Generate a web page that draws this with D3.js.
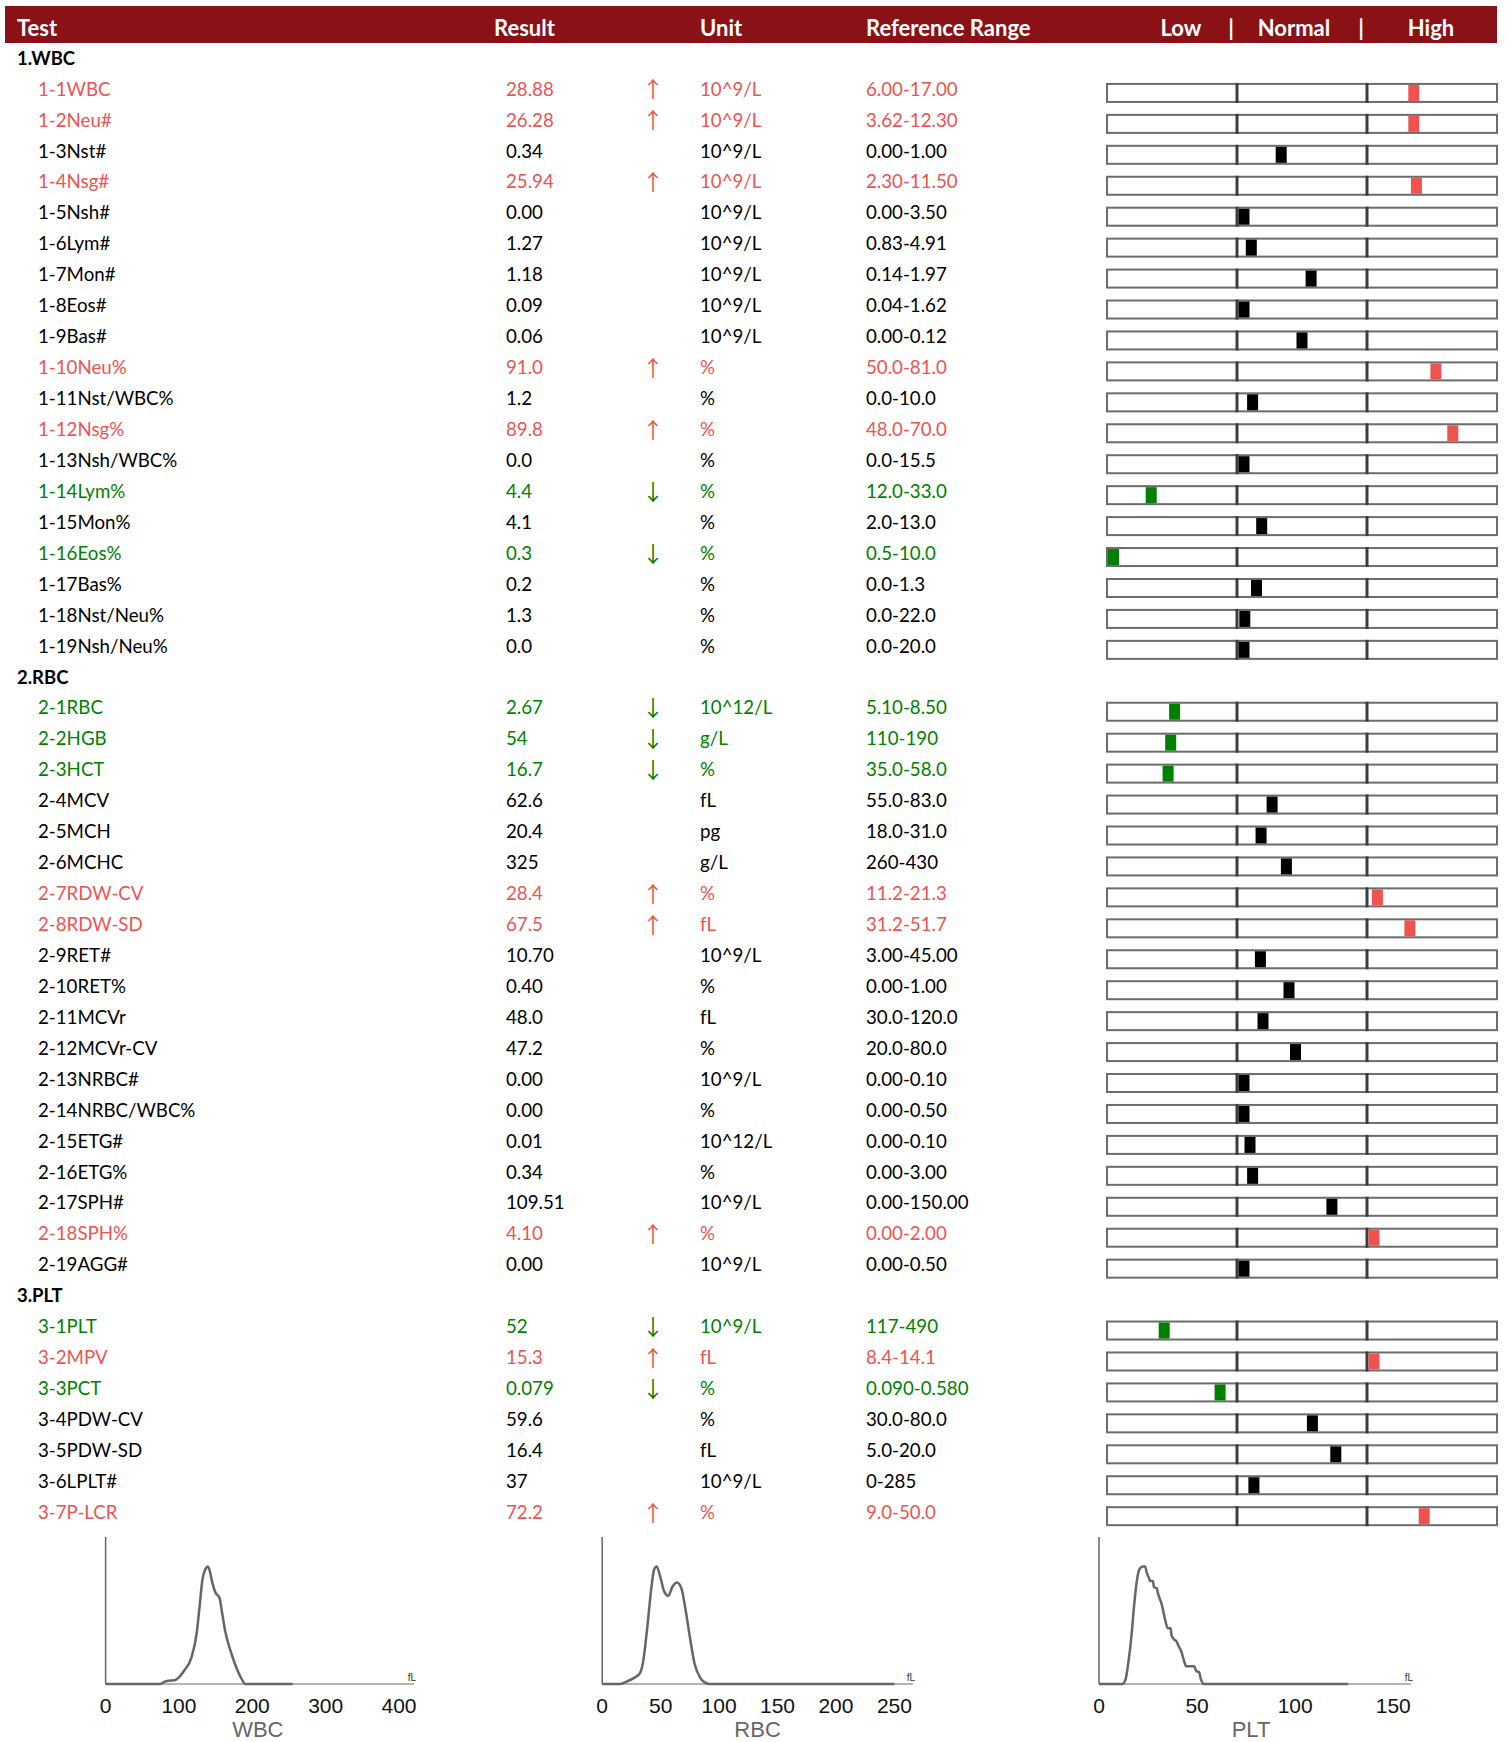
<!DOCTYPE html>
<html><head><meta charset="utf-8">
<script src="https://cdn.jsdelivr.net/npm/d3@7"></script>
<style>
html,body{margin:0;padding:0;background:#fff;}
svg{display:block;}
</style></head>
<body>
<svg id="chart" width="1510" height="1742"></svg>
<script>
// ---------------- DATA ----------------
const headerLabels = ["Test","Result","Unit","Reference Range"];
const gaugeLabels = ["Low","|","Normal","|","High"];
const sections = ["1.WBC","2.RBC","3.PLT"];
const sectionSizes = [19,19,7];

const testNames = [
 "1-1WBC","1-2Neu#","1-3Nst#","1-4Nsg#","1-5Nsh#","1-6Lym#","1-7Mon#","1-8Eos#","1-9Bas#","1-10Neu%",
 "1-11Nst/WBC%","1-12Nsg%","1-13Nsh/WBC%","1-14Lym%","1-15Mon%","1-16Eos%","1-17Bas%","1-18Nst/Neu%","1-19Nsh/Neu%",
 "2-1RBC","2-2HGB","2-3HCT","2-4MCV","2-5MCH","2-6MCHC","2-7RDW-CV","2-8RDW-SD","2-9RET#","2-10RET%",
 "2-11MCVr","2-12MCVr-CV","2-13NRBC#","2-14NRBC/WBC%","2-15ETG#","2-16ETG%","2-17SPH#","2-18SPH%","2-19AGG#",
 "3-1PLT","3-2MPV","3-3PCT","3-4PDW-CV","3-5PDW-SD","3-6LPLT#","3-7P-LCR"
];
const results = [
 "28.88","26.28","0.34","25.94","0.00","1.27","1.18","0.09","0.06","91.0",
 "1.2","89.8","0.0","4.4","4.1","0.3","0.2","1.3","0.0",
 "2.67","54","16.7","62.6","20.4","325","28.4","67.5","10.70","0.40",
 "48.0","47.2","0.00","0.00","0.01","0.34","109.51","4.10","0.00",
 "52","15.3","0.079","59.6","16.4","37","72.2"
];
const flags = [
 "H","H","","H","","","","","","H",
 "","H","","L","","L","","","",
 "L","L","L","","","","H","H","","",
 "","","","","","","","H","",
 "L","H","L","","","","H"
];
const units = [
 "10^9/L","10^9/L","10^9/L","10^9/L","10^9/L","10^9/L","10^9/L","10^9/L","10^9/L","%",
 "%","%","%","%","%","%","%","%","%",
 "10^12/L","g/L","%","fL","pg","g/L","%","fL","10^9/L","%",
 "fL","%","10^9/L","%","10^12/L","%","10^9/L","%","10^9/L",
 "10^9/L","fL","%","%","fL","10^9/L","%"
];
const ranges = [
 "6.00-17.00","3.62-12.30","0.00-1.00","2.30-11.50","0.00-3.50","0.83-4.91","0.14-1.97","0.04-1.62","0.00-0.12","50.0-81.0",
 "0.0-10.0","48.0-70.0","0.0-15.5","12.0-33.0","2.0-13.0","0.5-10.0","0.0-1.3","0.0-22.0","0.0-20.0",
 "5.10-8.50","110-190","35.0-58.0","55.0-83.0","18.0-31.0","260-430","11.2-21.3","31.2-51.7","3.00-45.00","0.00-1.00",
 "30.0-120.0","20.0-80.0","0.00-0.10","0.00-0.50","0.00-0.10","0.00-3.00","0.00-150.00","0.00-2.00","0.00-0.50",
 "117-490","8.4-14.1","0.090-0.580","30.0-80.0","5.0-20.0","0-285","9.0-50.0"
];
// marker level on the gauge: 0-1 low, 1-2 normal, 2-3 high
const gaugeLevel = [
 2.36,2.36,1.34,2.38,1.00,1.11,1.57,1.03,1.50,2.53,
 1.12,2.66,1.00,0.34,1.19,0.00,1.15,1.06,1.00,
 0.52,0.49,0.47,1.27,1.185,1.38,2.08,2.33,1.18,1.40,
 1.20,1.45,1.00,1.00,1.10,1.12,1.73,2.00,1.00,
 0.44,2.00,0.87,1.58,1.76,1.13,2.44
];

// histograms: [fL, relative height %]
const wbcHist = [[0,0],[75,0],[80,1.5],[86,2.2],[94,2.5],[100,4.5],[107,9],[117,18],[124,34],[128,52],[132,71],[136,78],[139,80],[142,77],[145,70],[150,62],[155,59],[159,48],[163,36],[170,23],[180,9],[186,3],[190,0],[255,0]];
const rbcHist = [[0,0],[15,0],[22,2],[28,4.5],[32,7],[35,15],[38.5,38],[42,65],[44.5,78],[46.6,80],[50,72],[53,63],[56.5,60],[60,66],[64,69],[67.8,65],[71,52],[75,32],[79,14],[84,4],[89,0.5],[92,0],[250,0]];
const pltHist = [[0,0],[12,0],[13.5,3],[15,15],[16.5,32],[18,55],[19.5,72],[20.6,78],[22.3,80],[23.5,80],[24.3,76],[25.5,72],[26,70],[27.5,70],[28,66],[29.5,65],[30,62],[32,54],[34,42],[35,38],[36.5,38],[37,33],[38.5,30],[39.5,29],[40.5,26],[42,22],[43.5,15],[44.5,12],[48.5,12],[49.5,9],[51,8],[52,3],[53.5,0],[127,0]];
const wbcTicks = [0,100,200,300,400];
const rbcTicks = [0,50,100,150,200,250];
const pltTicks = [0,50,100,150];
const histNames = ["WBC","RBC","PLT"];

// ---------------- DRAW ----------------
const svg = d3.select("#chart");
const FONT = "Lato, 'Open Sans', sans-serif";
const RED = "#ee5350", GREEN = "#008000", DARKRED = "#8a1116";
const colorOf = f => f === "H" ? RED : (f === "L" ? GREEN : "#000");

// header bar
svg.append("rect").attr("x",5).attr("y",6).attr("width",1492).attr("height",37).attr("fill",DARKRED);
const hdrX = [17,494,700,866];
svg.selectAll("text.hdr").data(headerLabels).join("text")
  .attr("class","hdr").attr("x",(d,i)=>hdrX[i]).attr("y",35.5)
  .attr("font-family",FONT).attr("font-weight","bold").attr("font-size",22)
  .attr("fill","#fff").text(d=>d);
const gHdrX = [1181,1231,1294,1361,1431];
svg.selectAll("text.ghdr").data(gaugeLabels).join("text")
  .attr("class","ghdr").attr("x",(d,i)=>gHdrX[i]).attr("y",35.5).attr("text-anchor","middle")
  .attr("font-family",FONT).attr("font-weight","bold").attr("font-size",22)
  .attr("fill","#fff").text(d=>d);

// build row list
const rows = [];
let k = 0;
sections.forEach((s,si)=>{
  rows.push({type:"section", label:s});
  for(let j=0;j<sectionSizes[si];j++){
    rows.push({type:"test", name:testNames[k], result:results[k], flag:flags[k], unit:units[k], range:ranges[k], level:gaugeLevel[k]});
    k++;
  }
});
const y = d3.scaleLinear().domain([0, rows.length-1]).range([58, 58 + (rows.length-1)*30.94]);

const rowG = svg.selectAll("g.row").data(rows).join("g").attr("class","row")
  .attr("transform",(d,i)=>`translate(0,${y(i)})`);

rowG.filter(d=>d.type==="section").append("text")
  .attr("x",17).attr("y",6.7).attr("font-family",FONT).attr("font-weight","bold").attr("font-size",18.5)
  .attr("fill","#000").text(d=>d.label);

const tests = rowG.filter(d=>d.type==="test");
const cols = [["name",38],["result",506],["unit",700],["range",866]];
cols.forEach(([key,x])=>{
  tests.append("text").attr("x",x).attr("y",6.7)
    .attr("font-family",FONT).attr("font-size",18.7)
    .attr("fill",d=>colorOf(d.flag)).text(d=>d[key]);
});
tests.filter(d=>d.flag!=="").append("text")
  .attr("x",653).attr("y",8.5).attr("text-anchor","middle")
  .attr("font-family","'Noto Sans CJK SC', 'DejaVu Sans', sans-serif").attr("font-weight",400).attr("font-size",22)
  .attr("fill",d=>colorOf(d.flag)).text(d=>d.flag==="H" ? "↑" : "↓");

// gauges
const gx = d3.scaleLinear().domain([0,3]).range([1107,1497]);
const barTop = -5, barH = 18, mW = 11;
tests.append("rect").attr("x",gx(0)).attr("y",barTop).attr("width",gx(3)-gx(0)).attr("height",barH)
  .attr("fill","#fff").attr("stroke","#6c6c6c").attr("stroke-width",2);
[1,2].forEach(v=>{
  tests.append("line").attr("x1",gx(v)).attr("x2",gx(v)).attr("y1",barTop-1).attr("y2",barTop+barH+1)
    .attr("stroke","#3c3c3c").attr("stroke-width",3);
});
tests.append("rect")
  .attr("x",d=>{
    const sec = Math.min(2, Math.max(0, Math.floor(d.level)));
    const lo = gx(sec) + (sec===0 ? 1 : 1.5) + mW/2;
    const hi = gx(sec+1) - 1.5 - mW/2;
    return Math.max(lo, Math.min(hi, gx(d.level))) - mW/2;
  })
  .attr("y",barTop+1).attr("width",mW).attr("height",barH-2)
  .attr("fill",d=>d.flag==="H" ? RED : (d.flag==="L" ? GREEN : "#000"));

// histograms
const hy = d3.scaleLinear().domain([0,100]).range([1684,1537]);
const panels = [
  {name:histNames[0], data:wbcHist, ticks:wbcTicks, x:d3.scaleLinear().domain([0,400]).range([105.6,399]), end:414},
  {name:histNames[1], data:rbcHist, ticks:rbcTicks, x:d3.scaleLinear().domain([0,250]).range([602.2,894.4]), end:913},
  {name:histNames[2], data:pltHist, ticks:pltTicks, x:d3.scaleLinear().domain([0,150]).range([1099,1393.3]), end:1411}
];
panels.forEach(p=>{
  const g = svg.append("g");
  const x0 = p.x(0);
  g.append("line").attr("x1",x0).attr("x2",p.end).attr("y1",hy(0)).attr("y2",hy(0))
    .attr("stroke","#9a9a9a").attr("stroke-width",1.5);
  g.append("line").attr("x1",x0).attr("x2",x0).attr("y1",hy(0)).attr("y2",hy(100))
    .attr("stroke","#666").attr("stroke-width",1.5);
  const line = d3.line().x(d=>p.x(d[0])).y(d=>hy(d[1])).curve(d3.curveMonotoneX);
  g.append("path").attr("d",line(p.data)).attr("fill","none")
    .attr("stroke","#666").attr("stroke-width",2.5).attr("stroke-linejoin","round");
  g.selectAll("text.tick").data(p.ticks).join("text").attr("class","tick")
    .attr("x",d=>p.x(d)).attr("y",1713).attr("text-anchor","middle")
    .attr("font-family","'Liberation Sans Narrow', 'Liberation Sans', Arial, sans-serif").attr("font-size",21)
    .attr("fill","#111").text(d=>d);
  g.append("text").attr("x",p.end+2).attr("y",1681).attr("text-anchor","end")
    .attr("font-family","'Liberation Sans Narrow', 'Liberation Sans', sans-serif").attr("font-size",10)
    .attr("fill","#333").text("fL");
  g.append("text").attr("x",(x0+p.end)/2 + (p.name==="WBC"?-2:p.name==="RBC"?0:-4)).attr("y",1737).attr("text-anchor","middle")
    .attr("font-family","'Liberation Sans', Arial, sans-serif").attr("font-size",22)
    .attr("fill","#666").text(p.name);
});
</script>
</body></html>
